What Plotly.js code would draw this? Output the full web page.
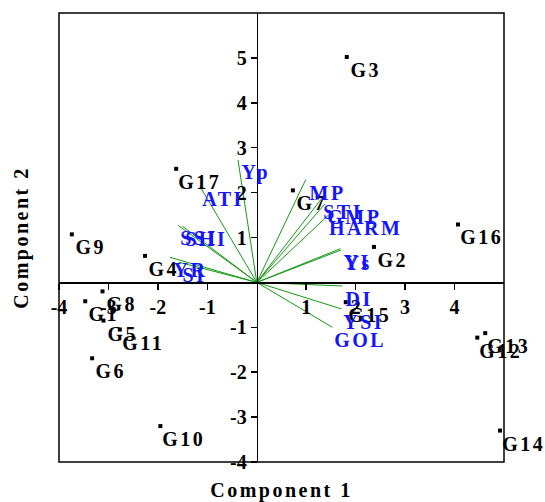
<!DOCTYPE html>
<html><head><meta charset="utf-8">
<script src="https://cdn.plot.ly/plotly-3.0.1.min.js"></script>
<style>
html,body{margin:0;padding:0;background:#fff;}
#chart{width:545px;height:502px;}
#chart text.annotation-text, #chart text.x2title, #chart text.y2title {letter-spacing:2.5px;}
</style></head><body><div id="chart"></div>
<script>
// Genotype scores
const genotypes = ['G1','G2','G3','G4','G5','G6','G7','G8','G9','G10','G11','G12','G13','G14','G15','G16','G17'];
const pc1 = [-3.47, 2.37, 1.82, -2.26, -3.10, -3.33, 0.73, -3.12, -3.74, -1.95, -2.77, 4.46, 4.62, 4.92, 1.80, 4.07, -1.63];
const pc2 = [-0.42, 0.79, 5.02, 0.59, -0.85, -1.69, 2.05, -0.20, 1.07, -3.20, -1.05, -1.23, -1.13, -3.30, -0.44, 1.29, 2.53];

// Index loadings (vectors)
const indices = ['Yp','ATI','SSI','SHI','YR','SI','MP','STI','GMP','HARM','YI','Ys','DI','YSI','GOL'];
const load1 = [-0.38, -1.15, -1.59, -1.50, -1.76, -1.58, 0.99, 1.30, 1.38, 1.45, 1.69, 1.70, 1.73, 1.71, 1.53];
const load2 = [2.73, 2.14, 1.27, 1.25, 0.56, 0.45, 2.29, 1.85, 1.75, 1.50, 0.75, 0.72, -0.08, -0.59, -1.00];

const xTicks = [-4, -3, -2, -1, 1, 2, 3, 4];
const yTicks = [-4, -3, -2, -1, 1, 2, 3, 4, 5];
const xRange = [-4, 5];
const yRange = [-4, 6];

const serif = 'Liberation Serif, Times New Roman, serif';
const tickFont = {family: serif, size: 20, color: '#000', weight: 700};
const labFont = {family: serif, size: 20, color: '#000', weight: 700};

// vector lines built from loadings
const vx = [], vy = [];
load1.forEach((v, i) => { vx.push(0, v, null); vy.push(0, load2[i], null); });

const traces = [
  {x: vx, y: vy, mode: 'lines', line: {color: '#159a15', width: 1}, hoverinfo: 'skip', showlegend: false},
  {x: pc1, y: pc2, mode: 'markers', marker: {symbol: 'square', size: 4, color: '#000'}, showlegend: false},
  {x: [], y: [], xaxis: 'x2', yaxis: 'y2', mode: 'markers', showlegend: false}
];

const annotations = [];
genotypes.forEach((g, i) => annotations.push({
  x: pc1[i], y: pc2[i], text: g, showarrow: false, xanchor: 'left', yanchor: 'middle',
  xshift: 4, yshift: -13, font: labFont
}));
indices.forEach((t, i) => annotations.push({
  x: load1[i], y: load2[i], text: t, showarrow: false, xanchor: 'left', yanchor: 'middle',
  xshift: 4, yshift: -13, font: Object.assign({}, labFont, {color: '#1414ff'})
}));

const layout = {
  width: 545, height: 502,
  margin: {l: 59, r: 41, t: 13, b: 40},
  paper_bgcolor: '#fff', plot_bgcolor: '#fff',
  showlegend: false,
  xaxis: {
    range: xRange, anchor: 'free', position: (0 - yRange[0]) / (yRange[1] - yRange[0]),
    showline: true, linecolor: '#000', linewidth: 1.5, showgrid: false, zeroline: false,
    ticks: 'outside', ticklen: 6, tickcolor: '#000', tickwidth: 1.5,
    tickmode: 'array', tickvals: xTicks, ticktext: xTicks.map(String), tickfont: tickFont
  },
  yaxis: {
    range: yRange, anchor: 'free', position: (0 - xRange[0]) / (xRange[1] - xRange[0]),
    showline: true, linecolor: '#000', linewidth: 1.5, showgrid: false, zeroline: false,
    ticks: 'outside', ticklen: 6, tickcolor: '#000', tickwidth: 1.5,
    tickmode: 'array', tickvals: yTicks, ticktext: yTicks.map(String), tickfont: tickFont
  },
  xaxis2: {
    range: xRange, overlaying: 'x', anchor: 'y2', side: 'bottom', showline: false, ticks: '',
    showticklabels: false, showgrid: false, zeroline: false,
    title: {text: 'Component 1', font: labFont, standoff: 20}
  },
  yaxis2: {
    range: yRange, overlaying: 'y', anchor: 'x2', side: 'left', showline: false, ticks: '',
    showticklabels: false, showgrid: false, zeroline: false,
    title: {text: 'Component 2', font: labFont, standoff: 24}
  },
  shapes: [{type: 'rect', xref: 'paper', yref: 'paper', x0: 0, y0: 0, x1: 1, y1: 1,
            line: {color: '#000', width: 1.5}, fillcolor: 'rgba(0,0,0,0)', layer: 'above'}],
  annotations: annotations
};

Plotly.newPlot('chart', traces, layout, {displayModeBar: false, staticPlot: true});
</script></body></html>
